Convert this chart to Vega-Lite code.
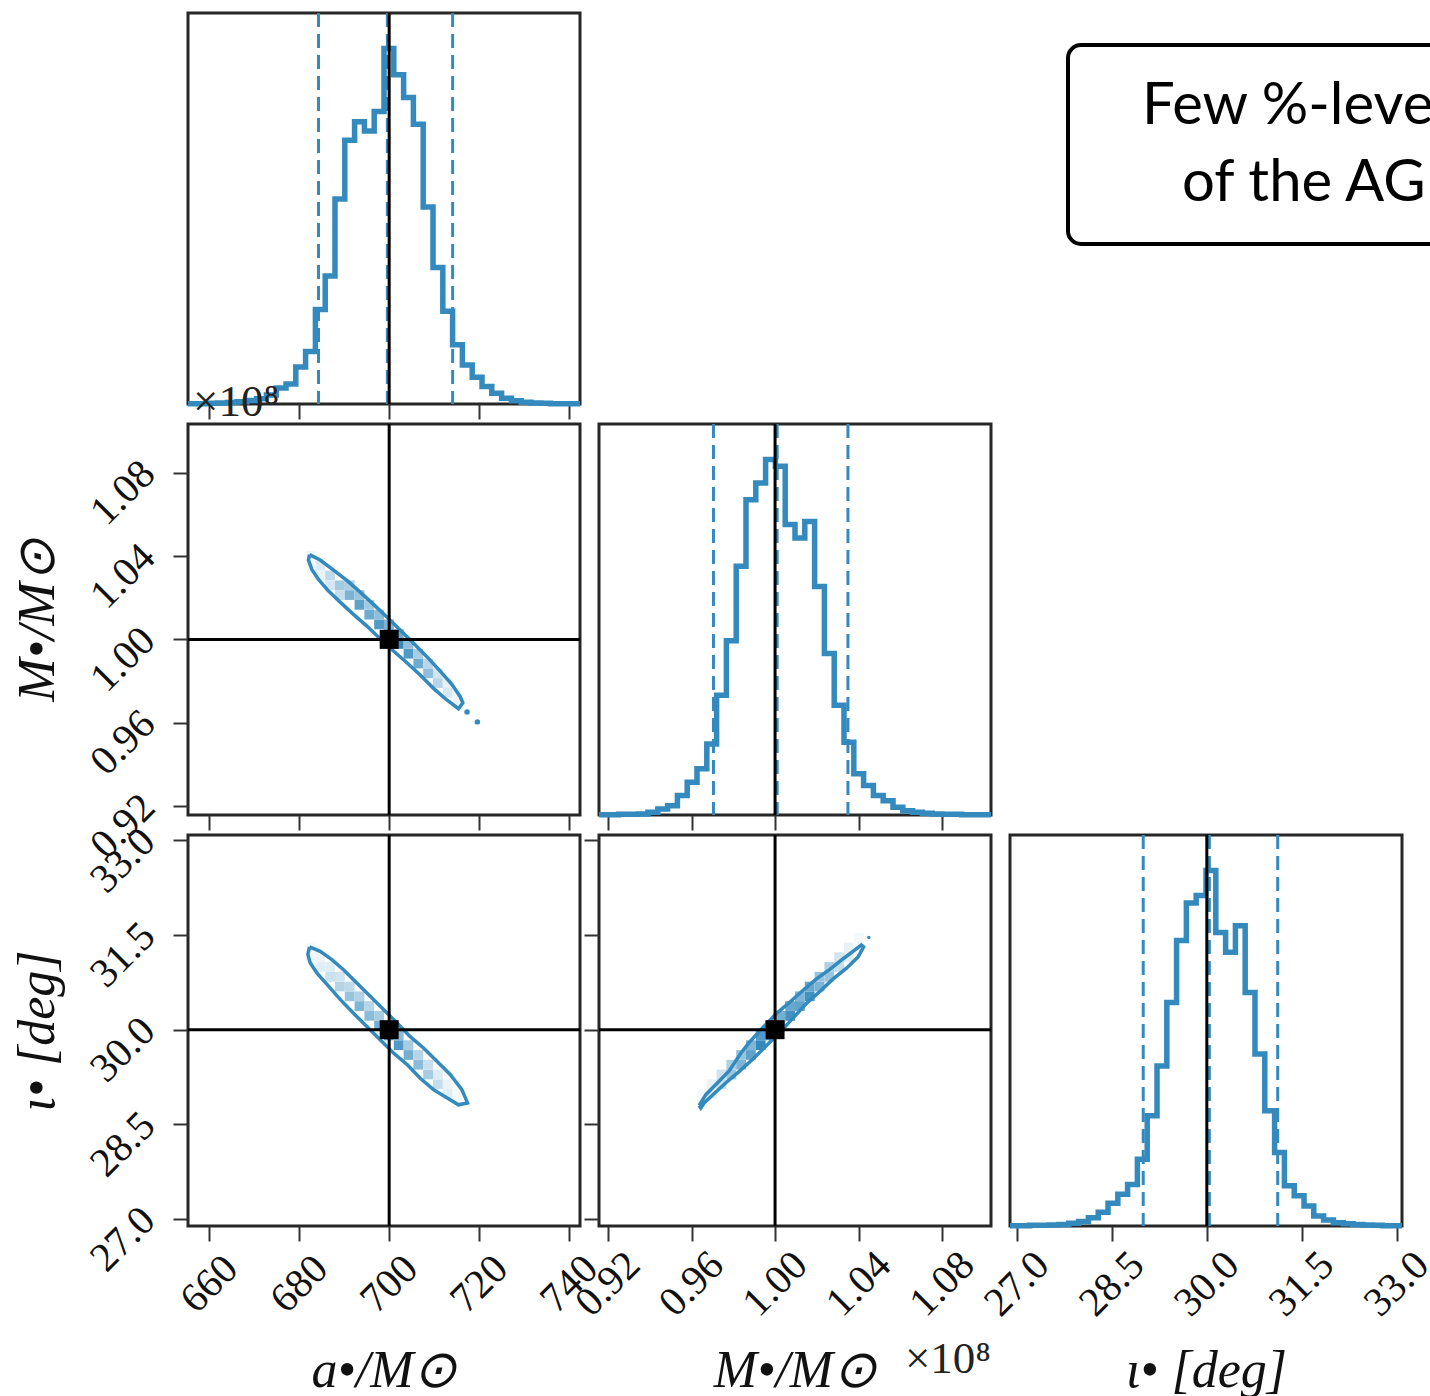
{
"$schema": "https://vega.github.io/schema/vega-lite/v6.json",
"background": "white",
"padding": {"left": 10, "top": 10, "right": 0, "bottom": 0},
"autosize": {"type": "pad"},
"columns": 3,
"bounds": "flush",
"spacing": {"row": 20, "column": 19},
"config": {
  "view": {"stroke": "#262626", "strokeWidth": 3},
  "axis": {"domain": false, "grid": false, "tickColor": "#333333", "tickWidth": 2, "tickSize": 15, "labelFont": "Liberation Serif", "labelFontSize": 41, "labelColor": "#111111", "labelOverlap": false, "labelFlush": false, "titleFont": "Liberation Serif", "titleFontSize": 52, "titleFontWeight": "normal", "titleFontStyle": "italic", "titleColor": "#111111"}
},
"datasets": {
  "hist_a": [{"x":655.30,"n":0.001},{"x":657.48,"n":0.001},{"x":659.66,"n":0.002},{"x":661.83,"n":0.003},{"x":664.01,"n":0.004},{"x":666.19,"n":0.006},{"x":668.37,"n":0.010},{"x":670.54,"n":0.015},{"x":672.72,"n":0.025},{"x":674.90,"n":0.045},{"x":677.08,"n":0.056},{"x":679.25,"n":0.104},{"x":681.43,"n":0.148},{"x":683.61,"n":0.266},{"x":685.79,"n":0.360},{"x":687.96,"n":0.577},{"x":690.14,"n":0.742},{"x":692.32,"n":0.794},{"x":694.50,"n":0.768},{"x":696.67,"n":0.823},{"x":698.85,"n":1.0},{"x":701.03,"n":0.926},{"x":703.21,"n":0.862},{"x":705.38,"n":0.787},{"x":707.56,"n":0.554},{"x":709.74,"n":0.384},{"x":711.92,"n":0.261},{"x":714.09,"n":0.167},{"x":716.27,"n":0.110},{"x":718.45,"n":0.075},{"x":720.63,"n":0.049},{"x":722.80,"n":0.030},{"x":724.98,"n":0.016},{"x":727.16,"n":0.009},{"x":729.34,"n":0.005},{"x":731.51,"n":0.003},{"x":733.69,"n":0.002},{"x":735.87,"n":0.001},{"x":738.05,"n":0.001},{"x":740.22,"n":0.001},{"x":742.40,"n":0.001}],
  "hist_m": [{"x":0.91570,"n":0.001},{"x":0.92039,"n":0.001},{"x":0.92509,"n":0.002},{"x":0.92978,"n":0.002},{"x":0.93447,"n":0.003},{"x":0.93916,"n":0.008},{"x":0.94386,"n":0.017},{"x":0.94855,"n":0.026},{"x":0.95324,"n":0.055},{"x":0.95793,"n":0.092},{"x":0.96263,"n":0.13},{"x":0.96732,"n":0.20},{"x":0.97201,"n":0.337},{"x":0.97670,"n":0.49},{"x":0.98140,"n":0.70},{"x":0.98609,"n":0.887},{"x":0.99078,"n":0.934},{"x":0.99547,"n":1.0},{"x":1.00017,"n":0.981},{"x":1.00486,"n":0.817},{"x":1.00955,"n":0.779},{"x":1.01424,"n":0.826},{"x":1.01894,"n":0.643},{"x":1.02363,"n":0.454},{"x":1.02832,"n":0.309},{"x":1.03301,"n":0.205},{"x":1.03771,"n":0.116},{"x":1.04240,"n":0.083},{"x":1.04709,"n":0.055},{"x":1.05178,"n":0.04},{"x":1.05648,"n":0.022},{"x":1.06117,"n":0.012},{"x":1.06586,"n":0.008},{"x":1.07055,"n":0.005},{"x":1.07525,"n":0.003},{"x":1.07994,"n":0.002},{"x":1.08463,"n":0.002},{"x":1.08932,"n":0.001},{"x":1.09402,"n":0.001},{"x":1.09871,"n":0.001},{"x":1.10340,"n":0.001}],
  "hist_i": [{"x":26.890,"n":0.001},{"x":27.045,"n":0.001},{"x":27.200,"n":0.002},{"x":27.355,"n":0.002},{"x":27.509,"n":0.003},{"x":27.664,"n":0.004},{"x":27.819,"n":0.008},{"x":27.974,"n":0.013},{"x":28.129,"n":0.023},{"x":28.284,"n":0.039},{"x":28.439,"n":0.064},{"x":28.594,"n":0.089},{"x":28.748,"n":0.117},{"x":28.903,"n":0.188},{"x":29.058,"n":0.31},{"x":29.213,"n":0.45},{"x":29.368,"n":0.629},{"x":29.522,"n":0.803},{"x":29.677,"n":0.909},{"x":29.832,"n":0.93},{"x":29.987,"n":1.0},{"x":30.142,"n":0.826},{"x":30.297,"n":0.77},{"x":30.452,"n":0.845},{"x":30.606,"n":0.657},{"x":30.761,"n":0.484},{"x":30.916,"n":0.324},{"x":31.071,"n":0.207},{"x":31.226,"n":0.113},{"x":31.381,"n":0.085},{"x":31.536,"n":0.056},{"x":31.690,"n":0.028},{"x":31.845,"n":0.017},{"x":32.000,"n":0.009},{"x":32.155,"n":0.006},{"x":32.310,"n":0.004},{"x":32.465,"n":0.003},{"x":32.619,"n":0.002},{"x":32.774,"n":0.001},{"x":32.929,"n":0.001},{"x":33.084,"n":0.001}],
  "q_a": [{"q":684.3},{"q":699.6},{"q":714.1}],
  "q_m": [{"q":0.9705},{"q":1.001},{"q":1.0349}],
  "q_i": [{"q":28.995},{"q":30.04},{"q":31.12}],
  "truth": [{"a":700,"m":1.0,"i":30.0}],
  "cont_am": [{"o":0,"a":682.30,"m":1.0407},{"o":1,"a":684.67,"m":1.0381},{"o":2,"a":687.63,"m":1.0333},{"o":3,"a":690.59,"m":1.0283},{"o":4,"a":693.56,"m":1.0227},{"o":5,"a":696.52,"m":1.0168},{"o":6,"a":699.48,"m":1.0107},{"o":7,"a":702.44,"m":1.0045},{"o":8,"a":705.41,"m":0.9981},{"o":9,"a":708.37,"m":0.9917},{"o":10,"a":711.33,"m":0.9848},{"o":11,"a":713.93,"m":0.9784},{"o":12,"a":715.78,"m":0.9725},{"o":13,"a":716.37,"m":0.9696},{"o":14,"a":715.41,"m":0.9667},{"o":15,"a":712.81,"m":0.9709},{"o":16,"a":709.85,"m":0.9765},{"o":17,"a":706.89,"m":0.9829},{"o":18,"a":703.93,"m":0.9888},{"o":19,"a":700.96,"m":0.9944},{"o":20,"a":698.00,"m":1.0003},{"o":21,"a":695.04,"m":1.0064},{"o":22,"a":692.07,"m":1.0120},{"o":23,"a":689.11,"m":1.0179},{"o":24,"a":686.52,"m":1.0232},{"o":25,"a":684.30,"m":1.0288},{"o":26,"a":682.81,"m":1.0336},{"o":27,"a":682.07,"m":1.0381},{"o":28,"a":682.30,"m":1.0407}],
  "cont_ai": [{"o":0,"a":682.30,"i":31.31},{"o":1,"a":684.67,"i":31.24},{"o":2,"a":687.26,"i":31.11},{"o":3,"a":689.85,"i":30.95},{"o":4,"a":692.81,"i":30.74},{"o":5,"a":695.78,"i":30.53},{"o":6,"a":698.74,"i":30.32},{"o":7,"a":701.70,"i":30.11},{"o":8,"a":704.67,"i":29.89},{"o":9,"a":707.63,"i":29.71},{"o":10,"a":710.59,"i":29.50},{"o":11,"a":713.56,"i":29.29},{"o":12,"a":716.15,"i":29.05},{"o":13,"a":717.41,"i":28.84},{"o":14,"a":715.41,"i":28.81},{"o":15,"a":712.81,"i":28.92},{"o":16,"a":709.85,"i":29.05},{"o":17,"a":706.89,"i":29.23},{"o":18,"a":703.93,"i":29.45},{"o":19,"a":700.96,"i":29.63},{"o":20,"a":698.00,"i":29.84},{"o":21,"a":695.04,"i":30.05},{"o":22,"a":692.07,"i":30.26},{"o":23,"a":689.11,"i":30.48},{"o":24,"a":686.52,"i":30.69},{"o":25,"a":683.93,"i":30.90},{"o":26,"a":682.44,"i":31.06},{"o":27,"a":681.93,"i":31.19},{"o":28,"a":682.30,"i":31.31}],
  "cont_mi": [{"o":0,"m":0.96367,"i":28.80},{"o":1,"m":0.96687,"i":28.97},{"o":2,"m":0.97248,"i":29.16},{"o":3,"m":0.97808,"i":29.35},{"o":4,"m":0.98368,"i":29.63},{"o":5,"m":0.98768,"i":29.80},{"o":6,"m":0.99408,"i":30.03},{"o":7,"m":1.00048,"i":30.25},{"o":8,"m":1.00688,"i":30.43},{"o":9,"m":1.01328,"i":30.62},{"o":10,"m":1.01968,"i":30.80},{"o":11,"m":1.02608,"i":30.95},{"o":12,"m":1.03249,"i":31.12},{"o":13,"m":1.03809,"i":31.26},{"o":14,"m":1.04129,"i":31.34},{"o":15,"m":1.04241,"i":31.31},{"o":16,"m":1.03969,"i":31.15},{"o":17,"m":1.03409,"i":30.97},{"o":18,"m":1.02768,"i":30.80},{"o":19,"m":1.02128,"i":30.60},{"o":20,"m":1.01488,"i":30.41},{"o":21,"m":1.00848,"i":30.18},{"o":22,"m":1.00208,"i":29.95},{"o":23,"m":0.99568,"i":29.74},{"o":24,"m":0.98928,"i":29.53},{"o":25,"m":0.98288,"i":29.34},{"o":26,"m":0.97648,"i":29.16},{"o":27,"m":0.97088,"i":28.99},{"o":28,"m":0.96607,"i":28.84},{"o":29,"m":0.96447,"i":28.76},{"o":30,"m":0.96367,"i":28.80}],
  "isl_am": [{"a":717.3,"m":0.9651},{"a":719.6,"m":0.9604}],
  "isl_mi": [{"m":1.0449,"i":31.46}],
  "cells_am": [
    {"a0":681.43,"a1":683.61,"m0":1.03771,"m1":1.04240,"w":0.06},{"a0":681.43,"a1":683.61,"m0":1.03301,"m1":1.03771,"w":0.04},
    {"a0":683.61,"a1":685.79,"m0":1.03301,"m1":1.03771,"w":0.12},{"a0":683.61,"a1":685.79,"m0":1.02832,"m1":1.03301,"w":0.08},
    {"a0":685.79,"a1":687.96,"m0":1.02832,"m1":1.03301,"w":0.22},{"a0":685.79,"a1":687.96,"m0":1.02363,"m1":1.02832,"w":0.14},
    {"a0":687.96,"a1":690.14,"m0":1.02363,"m1":1.02832,"w":0.32},{"a0":687.96,"a1":690.14,"m0":1.01894,"m1":1.02363,"w":0.20},
    {"a0":690.14,"a1":692.32,"m0":1.01894,"m1":1.02363,"w":0.45},{"a0":690.14,"a1":692.32,"m0":1.02363,"m1":1.02832,"w":0.28},
    {"a0":692.32,"a1":694.50,"m0":1.01424,"m1":1.01894,"w":0.55},{"a0":692.32,"a1":694.50,"m0":1.01894,"m1":1.02363,"w":0.35},
    {"a0":694.50,"a1":696.67,"m0":1.00955,"m1":1.01424,"w":0.50},{"a0":694.50,"a1":696.67,"m0":1.01424,"m1":1.01894,"w":0.32},
    {"a0":696.67,"a1":698.85,"m0":1.00486,"m1":1.00955,"w":0.60},{"a0":696.67,"a1":698.85,"m0":1.00955,"m1":1.01424,"w":0.38},
    {"a0":698.85,"a1":701.03,"m0":1.00017,"m1":1.00486,"w":0.75},{"a0":698.85,"a1":701.03,"m0":1.00486,"m1":1.00955,"w":0.45},
    {"a0":701.03,"a1":703.21,"m0":0.99547,"m1":1.00017,"w":0.80},{"a0":701.03,"a1":703.21,"m0":1.00017,"m1":1.00486,"w":0.50},
    {"a0":703.21,"a1":705.38,"m0":0.99078,"m1":0.99547,"w":0.60},{"a0":703.21,"a1":705.38,"m0":0.99547,"m1":1.00017,"w":0.38},
    {"a0":705.38,"a1":707.56,"m0":0.98609,"m1":0.99078,"w":0.50},{"a0":705.38,"a1":707.56,"m0":0.99078,"m1":0.99547,"w":0.30},
    {"a0":707.56,"a1":709.74,"m0":0.98140,"m1":0.98609,"w":0.38},{"a0":707.56,"a1":709.74,"m0":0.98609,"m1":0.99078,"w":0.24},
    {"a0":709.74,"a1":711.92,"m0":0.97670,"m1":0.98140,"w":0.25},{"a0":709.74,"a1":711.92,"m0":0.98140,"m1":0.98609,"w":0.16},
    {"a0":711.92,"a1":714.09,"m0":0.97201,"m1":0.97670,"w":0.14},{"a0":711.92,"a1":714.09,"m0":0.97670,"m1":0.98140,"w":0.09},
    {"a0":714.09,"a1":716.27,"m0":0.96732,"m1":0.97201,"w":0.06},{"a0":714.09,"a1":716.27,"m0":0.97201,"m1":0.97670,"w":0.04}
  ],
  "cells_ai": [
    {"a0":681.43,"a1":683.61,"i0":31.071,"i1":31.226,"w":0.05},{"a0":681.43,"a1":683.61,"i0":31.226,"i1":31.381,"w":0.03},
    {"a0":683.61,"a1":685.79,"i0":30.916,"i1":31.071,"w":0.10},{"a0":683.61,"a1":685.79,"i0":31.071,"i1":31.226,"w":0.06},
    {"a0":685.79,"a1":687.96,"i0":30.761,"i1":30.916,"w":0.18},{"a0":685.79,"a1":687.96,"i0":30.916,"i1":31.071,"w":0.11},
    {"a0":687.96,"a1":690.14,"i0":30.606,"i1":30.761,"w":0.26},{"a0":687.96,"a1":690.14,"i0":30.761,"i1":30.916,"w":0.16},
    {"a0":690.14,"a1":692.32,"i0":30.452,"i1":30.606,"w":0.36},{"a0":690.14,"a1":692.32,"i0":30.606,"i1":30.761,"w":0.22},
    {"a0":692.32,"a1":694.50,"i0":30.297,"i1":30.452,"w":0.44},{"a0":692.32,"a1":694.50,"i0":30.452,"i1":30.606,"w":0.27},
    {"a0":694.50,"a1":696.67,"i0":30.142,"i1":30.297,"w":0.40},{"a0":694.50,"a1":696.67,"i0":30.297,"i1":30.452,"w":0.25},
    {"a0":696.67,"a1":698.85,"i0":29.987,"i1":30.142,"w":0.48},{"a0":696.67,"a1":698.85,"i0":30.142,"i1":30.297,"w":0.30},
    {"a0":698.85,"a1":701.03,"i0":29.832,"i1":29.987,"w":0.60},{"a0":698.85,"a1":701.03,"i0":29.987,"i1":30.142,"w":0.40},
    {"a0":701.03,"a1":703.21,"i0":29.677,"i1":29.832,"w":0.60},{"a0":701.03,"a1":703.21,"i0":29.832,"i1":29.987,"w":0.40},
    {"a0":703.21,"a1":705.38,"i0":29.522,"i1":29.677,"w":0.48},{"a0":703.21,"a1":705.38,"i0":29.677,"i1":29.832,"w":0.30},
    {"a0":705.38,"a1":707.56,"i0":29.368,"i1":29.522,"w":0.40},{"a0":705.38,"a1":707.56,"i0":29.522,"i1":29.677,"w":0.25},
    {"a0":707.56,"a1":709.74,"i0":29.213,"i1":29.368,"w":0.30},{"a0":707.56,"a1":709.74,"i0":29.368,"i1":29.522,"w":0.19},
    {"a0":709.74,"a1":711.92,"i0":29.058,"i1":29.213,"w":0.20},{"a0":709.74,"a1":711.92,"i0":29.213,"i1":29.368,"w":0.12},
    {"a0":711.92,"a1":714.09,"i0":28.903,"i1":29.058,"w":0.11},{"a0":711.92,"a1":714.09,"i0":29.058,"i1":29.213,"w":0.07},
    {"a0":714.09,"a1":716.27,"i0":28.748,"i1":28.903,"w":0.05},{"a0":714.09,"a1":716.27,"i0":28.903,"i1":29.058,"w":0.03}
  ],
  "cells_mi": [
    {"m0":0.96263,"m1":0.96732,"i0":28.748,"i1":28.903,"w":0.05},{"m0":0.96263,"m1":0.96732,"i0":28.903,"i1":29.058,"w":0.04},
    {"m0":0.96732,"m1":0.97201,"i0":28.903,"i1":29.058,"w":0.10},{"m0":0.96732,"m1":0.97201,"i0":29.058,"i1":29.213,"w":0.08},
    {"m0":0.97201,"m1":0.97670,"i0":29.058,"i1":29.213,"w":0.20},{"m0":0.97201,"m1":0.97670,"i0":29.213,"i1":29.368,"w":0.16},
    {"m0":0.97670,"m1":0.98140,"i0":29.213,"i1":29.368,"w":0.35},{"m0":0.97670,"m1":0.98140,"i0":29.368,"i1":29.522,"w":0.28},
    {"m0":0.98140,"m1":0.98609,"i0":29.368,"i1":29.522,"w":0.45},{"m0":0.98140,"m1":0.98609,"i0":29.522,"i1":29.677,"w":0.36},
    {"m0":0.98609,"m1":0.99078,"i0":29.522,"i1":29.677,"w":0.55},{"m0":0.98609,"m1":0.99078,"i0":29.677,"i1":29.832,"w":0.44},
    {"m0":0.99078,"m1":0.99547,"i0":29.677,"i1":29.832,"w":0.75},{"m0":0.99078,"m1":0.99547,"i0":29.832,"i1":29.987,"w":0.60},
    {"m0":0.99547,"m1":1.00017,"i0":29.832,"i1":29.987,"w":0.80},{"m0":0.99547,"m1":1.00017,"i0":29.987,"i1":30.142,"w":0.64},
    {"m0":1.00017,"m1":1.00486,"i0":29.987,"i1":30.142,"w":0.60},{"m0":1.00017,"m1":1.00486,"i0":30.142,"i1":30.297,"w":0.48},
    {"m0":1.00486,"m1":1.00955,"i0":30.142,"i1":30.297,"w":0.65},{"m0":1.00486,"m1":1.00955,"i0":30.297,"i1":30.452,"w":0.52},
    {"m0":1.00955,"m1":1.01424,"i0":30.297,"i1":30.452,"w":0.55},{"m0":1.00955,"m1":1.01424,"i0":30.452,"i1":30.606,"w":0.44},
    {"m0":1.01424,"m1":1.01894,"i0":30.452,"i1":30.606,"w":0.65},{"m0":1.01424,"m1":1.01894,"i0":30.606,"i1":30.761,"w":0.52},
    {"m0":1.01894,"m1":1.02363,"i0":30.606,"i1":30.761,"w":0.45},{"m0":1.01894,"m1":1.02363,"i0":30.761,"i1":30.916,"w":0.36},
    {"m0":1.02363,"m1":1.02832,"i0":30.761,"i1":30.916,"w":0.35},{"m0":1.02363,"m1":1.02832,"i0":30.916,"i1":31.071,"w":0.28},
    {"m0":1.02832,"m1":1.03301,"i0":30.916,"i1":31.071,"w":0.20},{"m0":1.02832,"m1":1.03301,"i0":31.071,"i1":31.226,"w":0.16},
    {"m0":1.03301,"m1":1.03771,"i0":31.071,"i1":31.226,"w":0.10},{"m0":1.03301,"m1":1.03771,"i0":31.226,"i1":31.381,"w":0.08},
    {"m0":1.03771,"m1":1.04240,"i0":31.226,"i1":31.381,"w":0.05},{"m0":1.03771,"m1":1.04240,"i0":31.381,"i1":31.536,"w":0.04}
  ],
  "note": [{"l1":"Few %-level","l2":"of the AGN"}],
  "offset": [{"t":"×10⁸"}],
  "box": [{"k":"box"}],
  "blank": [{"k":"blank"}]
},
"concat": [
   {"width": 392, "height": 391,
    "layer": [
     {"data": {"name": "hist_a"}, "mark": {"type": "line", "interpolate": "step-after", "color": "#348ABD", "strokeWidth": 5.5, "strokeJoin": "miter"},
      "encoding": {"x": {"field": "x", "type": "quantitative", "scale": {"domain": [655.3, 742.4], "nice": false, "zero": false}, "axis": {"values": [660,680,700,720,740], "labels": false, "title": null}},
                   "y": {"field": "n", "type": "quantitative", "scale": {"domain": [0, 1.1], "nice": false}, "axis": null}}},
     {"data": {"name": "q_a"}, "mark": {"type": "rule", "color": "#348ABD", "strokeWidth": 3, "strokeDash": [14, 7]},
      "encoding": {"x": {"field": "q", "type": "quantitative"}}},
     {"data": {"name": "truth"}, "mark": {"type": "rule", "color": "black", "strokeWidth": 3},
      "encoding": {"x": {"field": "a", "type": "quantitative"}}}
    ]},
   {"width": 392, "height": 391, "view": {"stroke": null},
    "data": {"name": "blank"}, "mark": {"type": "point", "opacity": 0}, "encoding": {}},
   {"width": 420, "height": 391, "view": {"stroke": null},
    "layer": [
     {"data": {"name": "box"}, "mark": {"type": "rect", "cornerRadius": 13, "stroke": "black", "strokeWidth": 4, "fill": "white", "clip": true},
      "encoding": {"x": {"datum": 0.1381, "type": "quantitative", "scale": {"domain": [0, 1], "nice": false, "zero": false}, "axis": null},
                   "x2": {"datum": 1.1},
                   "y": {"datum": 0.9182, "type": "quantitative", "scale": {"domain": [0, 1], "nice": false, "zero": false}, "axis": null},
                   "y2": {"datum": 0.4092}}},
     {"data": {"name": "note"}, "mark": {"type": "text", "font": "Lato", "fontSize": 58, "align": "left", "baseline": "alphabetic", "color": "black", "clip": true},
      "encoding": {"x": {"datum": 0.3143, "type": "quantitative"}, "y": {"datum": 0.7161, "type": "quantitative"}, "text": {"field": "l1"}}},
     {"data": {"name": "note"}, "mark": {"type": "text", "font": "Lato", "fontSize": 58, "align": "left", "baseline": "alphabetic", "color": "black", "clip": true},
      "encoding": {"x": {"datum": 0.4095, "type": "quantitative"}, "y": {"datum": 0.5192, "type": "quantitative"}, "text": {"field": "l2"}}}
    ]},
   {"width": 392, "height": 391,
    "layer": [
     {"data": {"name": "cells_am"}, "mark": {"type": "rect"},
      "encoding": {"x": {"field": "a0", "type": "quantitative", "scale": {"domain": [655.3, 742.4], "nice": false, "zero": false}, "axis": {"values": [660,680,700,720,740], "labels": false, "title": null}},
                   "x2": {"field": "a1"},
                   "y": {"field": "m0", "type": "quantitative", "scale": {"domain": [0.9157, 1.1034], "nice": false, "zero": false},
                         "axis": {"values": [0.92,0.96,1.0,1.04,1.08], "format": ".2f", "title": "M•/M⊙", "labelAngle": -45, "labelAlign": "center", "labelBaseline": "middle", "labelPadding": 50, "labelOffset": 20, "titlePadding": 18}},
                   "y2": {"field": "m1"},
                   "color": {"field": "w", "type": "quantitative", "scale": {"domain": [0, 0.7], "range": ["#ffffff", "#348ABD"], "interpolate": "rgb", "clamp": true}, "legend": null}}},
     {"data": {"name": "cont_am"}, "mark": {"type": "line", "color": "#348ABD", "strokeWidth": 3.5},
      "encoding": {"x": {"field": "a", "type": "quantitative"}, "y": {"field": "m", "type": "quantitative"}, "order": {"field": "o", "type": "quantitative"}}},
     {"data": {"name": "isl_am"}, "mark": {"type": "point", "filled": true, "color": "#348ABD", "opacity": 1, "size": 30},
      "encoding": {"x": {"field": "a", "type": "quantitative"}, "y": {"field": "m", "type": "quantitative"}}},
     {"data": {"name": "truth"}, "mark": {"type": "rule", "color": "black", "strokeWidth": 3},
      "encoding": {"x": {"field": "a", "type": "quantitative"}}},
     {"data": {"name": "truth"}, "mark": {"type": "rule", "color": "black", "strokeWidth": 3},
      "encoding": {"y": {"field": "m", "type": "quantitative"}}},
     {"data": {"name": "truth"}, "mark": {"type": "point", "shape": "square", "filled": true, "color": "black", "opacity": 1, "size": 361},
      "encoding": {"x": {"field": "a", "type": "quantitative"}, "y": {"field": "m", "type": "quantitative"}}},
     {"data": {"name": "offset"}, "mark": {"type": "text", "font": "Liberation Serif", "fontSize": 45, "align": "left", "baseline": "alphabetic", "dx": 5, "dy": -8, "color": "#222222"},
      "encoding": {"x": {"datum": 655.3, "type": "quantitative"}, "y": {"datum": 1.1034, "type": "quantitative"}, "text": {"field": "t"}}}
    ]},
   {"width": 392, "height": 391,
    "layer": [
     {"data": {"name": "hist_m"}, "mark": {"type": "line", "interpolate": "step-after", "color": "#348ABD", "strokeWidth": 5.5, "strokeJoin": "miter"},
      "encoding": {"x": {"field": "x", "type": "quantitative", "scale": {"domain": [0.9157, 1.1034], "nice": false, "zero": false}, "axis": {"values": [0.92,0.96,1.0,1.04,1.08], "labels": false, "title": null}},
                   "y": {"field": "n", "type": "quantitative", "scale": {"domain": [0, 1.1], "nice": false}, "axis": null}}},
     {"data": {"name": "q_m"}, "mark": {"type": "rule", "color": "#348ABD", "strokeWidth": 3, "strokeDash": [14, 7]},
      "encoding": {"x": {"field": "q", "type": "quantitative"}}},
     {"data": {"name": "truth"}, "mark": {"type": "rule", "color": "black", "strokeWidth": 3},
      "encoding": {"x": {"field": "m", "type": "quantitative"}}}
    ]},
   {"width": 392, "height": 391, "view": {"stroke": null},
    "data": {"name": "blank"}, "mark": {"type": "point", "opacity": 0}, "encoding": {}},
   {"width": 392, "height": 391,
    "layer": [
     {"data": {"name": "cells_ai"}, "mark": {"type": "rect"},
      "encoding": {"x": {"field": "a0", "type": "quantitative", "scale": {"domain": [655.3, 742.4], "nice": false, "zero": false},
                         "axis": {"values": [660,680,700,720,740], "format": "d", "title": "a•/M⊙", "labelAngle": -45, "labelAlign": "center", "labelBaseline": "middle", "labelPadding": 43, "titlePadding": 26}},
                   "x2": {"field": "a1"},
                   "y": {"field": "i0", "type": "quantitative", "scale": {"domain": [26.89, 33.084], "nice": false, "zero": false},
                         "axis": {"values": [27,28.5,30,31.5,33], "format": ".1f", "title": "ι• [deg]", "labelAngle": -45, "labelAlign": "center", "labelBaseline": "middle", "labelPadding": 50, "labelOffset": 20, "titlePadding": 18}},
                   "y2": {"field": "i1"},
                   "color": {"field": "w", "type": "quantitative", "scale": {"domain": [0, 0.6], "range": ["#ffffff", "#348ABD"], "interpolate": "rgb", "clamp": true}, "legend": null}}},
     {"data": {"name": "cont_ai"}, "mark": {"type": "line", "color": "#348ABD", "strokeWidth": 3.5},
      "encoding": {"x": {"field": "a", "type": "quantitative"}, "y": {"field": "i", "type": "quantitative"}, "order": {"field": "o", "type": "quantitative"}}},
     {"data": {"name": "truth"}, "mark": {"type": "rule", "color": "black", "strokeWidth": 3},
      "encoding": {"x": {"field": "a", "type": "quantitative"}}},
     {"data": {"name": "truth"}, "mark": {"type": "rule", "color": "black", "strokeWidth": 3},
      "encoding": {"y": {"field": "i", "type": "quantitative"}}},
     {"data": {"name": "truth"}, "mark": {"type": "point", "shape": "square", "filled": true, "color": "black", "opacity": 1, "size": 361},
      "encoding": {"x": {"field": "a", "type": "quantitative"}, "y": {"field": "i", "type": "quantitative"}}}
    ]},
   {"width": 392, "height": 391,
    "layer": [
     {"data": {"name": "cells_mi"}, "mark": {"type": "rect"},
      "encoding": {"x": {"field": "m0", "type": "quantitative", "scale": {"domain": [0.9157, 1.1034], "nice": false, "zero": false},
                         "axis": {"values": [0.92,0.96,1.0,1.04,1.08], "format": ".2f", "title": "M•/M⊙", "labelAngle": -45, "labelAlign": "center", "labelBaseline": "middle", "labelPadding": 43, "titlePadding": 22}},
                   "x2": {"field": "m1"},
                   "y": {"field": "i0", "type": "quantitative", "scale": {"domain": [26.89, 33.084], "nice": false, "zero": false},
                         "axis": {"values": [27,28.5,30,31.5,33], "labels": false, "title": null}},
                   "y2": {"field": "i1"},
                   "color": {"field": "w", "type": "quantitative", "scale": {"domain": [0, 0.7], "range": ["#ffffff", "#348ABD"], "interpolate": "rgb", "clamp": true}, "legend": null}}},
     {"data": {"name": "cont_mi"}, "mark": {"type": "line", "color": "#348ABD", "strokeWidth": 3.5},
      "encoding": {"x": {"field": "m", "type": "quantitative"}, "y": {"field": "i", "type": "quantitative"}, "order": {"field": "o", "type": "quantitative"}}},
     {"data": {"name": "isl_mi"}, "mark": {"type": "point", "filled": true, "color": "#348ABD", "opacity": 1, "size": 12},
      "encoding": {"x": {"field": "m", "type": "quantitative"}, "y": {"field": "i", "type": "quantitative"}}},
     {"data": {"name": "truth"}, "mark": {"type": "rule", "color": "black", "strokeWidth": 3},
      "encoding": {"x": {"field": "m", "type": "quantitative"}}},
     {"data": {"name": "truth"}, "mark": {"type": "rule", "color": "black", "strokeWidth": 3},
      "encoding": {"y": {"field": "i", "type": "quantitative"}}},
     {"data": {"name": "truth"}, "mark": {"type": "point", "shape": "square", "filled": true, "color": "black", "opacity": 1, "size": 361},
      "encoding": {"x": {"field": "m", "type": "quantitative"}, "y": {"field": "i", "type": "quantitative"}}},
     {"data": {"name": "offset"}, "mark": {"type": "text", "font": "Liberation Serif", "fontSize": 45, "align": "right", "baseline": "alphabetic", "dy": 147, "color": "#222222"},
      "encoding": {"x": {"datum": 1.1034, "type": "quantitative"}, "y": {"datum": 26.89, "type": "quantitative"}, "text": {"field": "t"}}}
    ]},
   {"width": 392, "height": 391,
    "layer": [
     {"data": {"name": "hist_i"}, "mark": {"type": "line", "interpolate": "step-after", "color": "#348ABD", "strokeWidth": 5.5, "strokeJoin": "miter"},
      "encoding": {"x": {"field": "x", "type": "quantitative", "scale": {"domain": [26.89, 33.084], "nice": false, "zero": false},
                         "axis": {"values": [27,28.5,30,31.5,33], "format": ".1f", "title": "ι• [deg]", "labelAngle": -45, "labelAlign": "center", "labelBaseline": "middle", "labelPadding": 43, "titlePadding": 22}},
                   "y": {"field": "n", "type": "quantitative", "scale": {"domain": [0, 1.1], "nice": false}, "axis": null}}},
     {"data": {"name": "q_i"}, "mark": {"type": "rule", "color": "#348ABD", "strokeWidth": 3, "strokeDash": [14, 7]},
      "encoding": {"x": {"field": "q", "type": "quantitative"}}},
     {"data": {"name": "truth"}, "mark": {"type": "rule", "color": "black", "strokeWidth": 3},
      "encoding": {"x": {"field": "i", "type": "quantitative"}}}
    ]}
]
}
